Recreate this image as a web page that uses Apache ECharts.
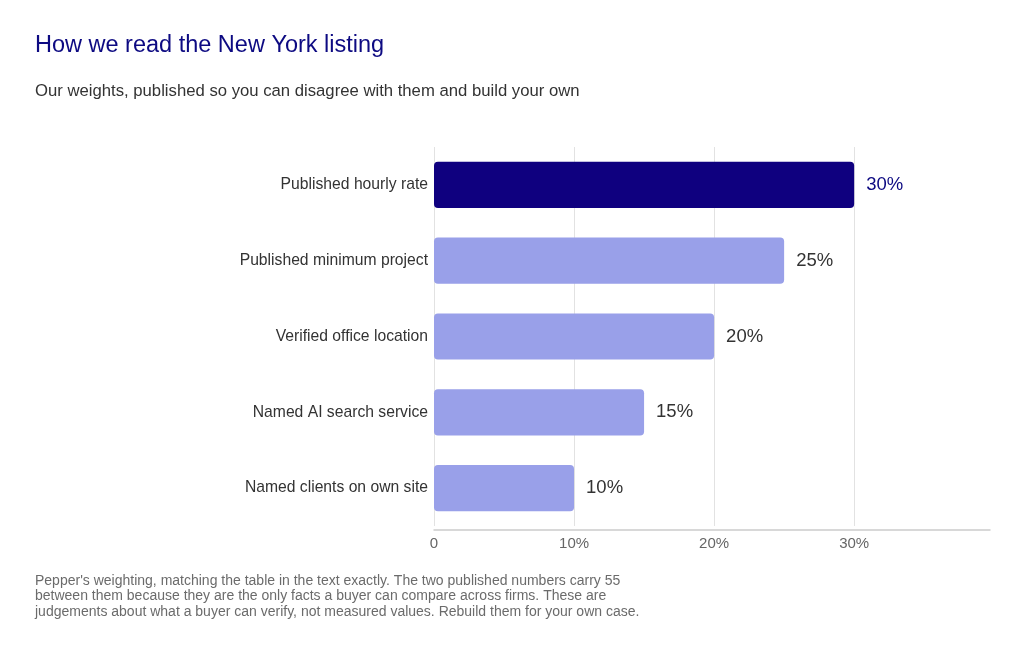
<!DOCTYPE html>
<html>
<head>
<meta charset="utf-8">
<script src="https://cdn.jsdelivr.net/npm/echarts@6/dist/echarts.min.js"></script>
<style>
html,body{margin:0;padding:0;background:#fff;}
#main{width:1024px;height:653px;}
</style>
</head>
<body>
<div id="main"></div>
<script>
const categories = ["Published hourly rate","Published minimum project","Verified office location","Named AI search service","Named clients on own site"];
const weights = [30, 25, 20, 15, 10];
const highlighted = [true, false, false, false, false];
const xTicks = [0, 10, 20, 30];

const FONT = '"Liberation Sans", Arial, Helvetica, sans-serif';
const DARK = '#0f007f';
const LIGHT = '#99a0e9';

const chart = echarts.init(document.getElementById('main'), null, {renderer:'canvas'});
chart.setOption({
  backgroundColor: '#ffffff',
  animation: false,
  textStyle: {fontFamily: FONT},
  title: [
    {text: 'How we read the New York listing', left: 30, top: 29,
     textStyle: {fontFamily: FONT, fontSize: 23.5, fontWeight: 'normal', color: '#0d0a82'}},
    {text: 'Our weights, published so you can disagree with them and build your own', left: 30, top: 78,
     textStyle: {fontFamily: FONT, fontSize: 16.7, fontWeight: 'normal', color: '#333333'}},
    {text: "Pepper's weighting, matching the table in the text exactly. The two published numbers carry 55\nbetween them because they are the only facts a buyer can compare across firms. These are\njudgements about what a buyer can verify, not measured values. Rebuild them for your own case.",
     left: 30, top: 568,
     textStyle: {fontFamily: FONT, fontSize: 14, fontWeight: 'normal', color: '#6b6b6b', lineHeight: 15.6}}
  ],
  grid: {left: 434, right: 34, top: 147, bottom: 127, containLabel: false},
  xAxis: {
    type: 'value', min: 0, max: 39.7, interval: 10, offset: 4,
    axisLine: {show: true, lineStyle: {color: '#cccccc', width: 1.5}},
    axisTick: {show: false},
    axisLabel: {showMaxLabel: false, fontFamily: FONT, fontSize: 15, color: '#666666', margin: 6,
      formatter: v => xTicks.includes(v) ? (v === 0 ? '0' : v + '%') : ''},
    splitLine: {show: true, showMaxLine: false, lineStyle: {color: '#e2e2e2', width: 1}}
  },
  yAxis: {
    type: 'category', data: categories, inverse: true,
    axisLine: {show: false}, axisTick: {show: false},
    axisLabel: {fontFamily: FONT, fontSize: 15.7, color: '#333333', margin: 6}
  },
  series: [{
    type: 'bar',
    barWidth: '61%',
    data: weights.map((v, i) => ({
      value: v,
      itemStyle: {color: highlighted[i] ? DARK : LIGHT, borderRadius: 4},
      label: {color: highlighted[i] ? '#0d0a82' : '#333333'}
    })),
    label: {show: true, position: 'right', distance: 12, fontFamily: FONT, fontSize: 18.5,
      formatter: p => p.value + '%'}
  }]
});
</script>
</body>
</html>
